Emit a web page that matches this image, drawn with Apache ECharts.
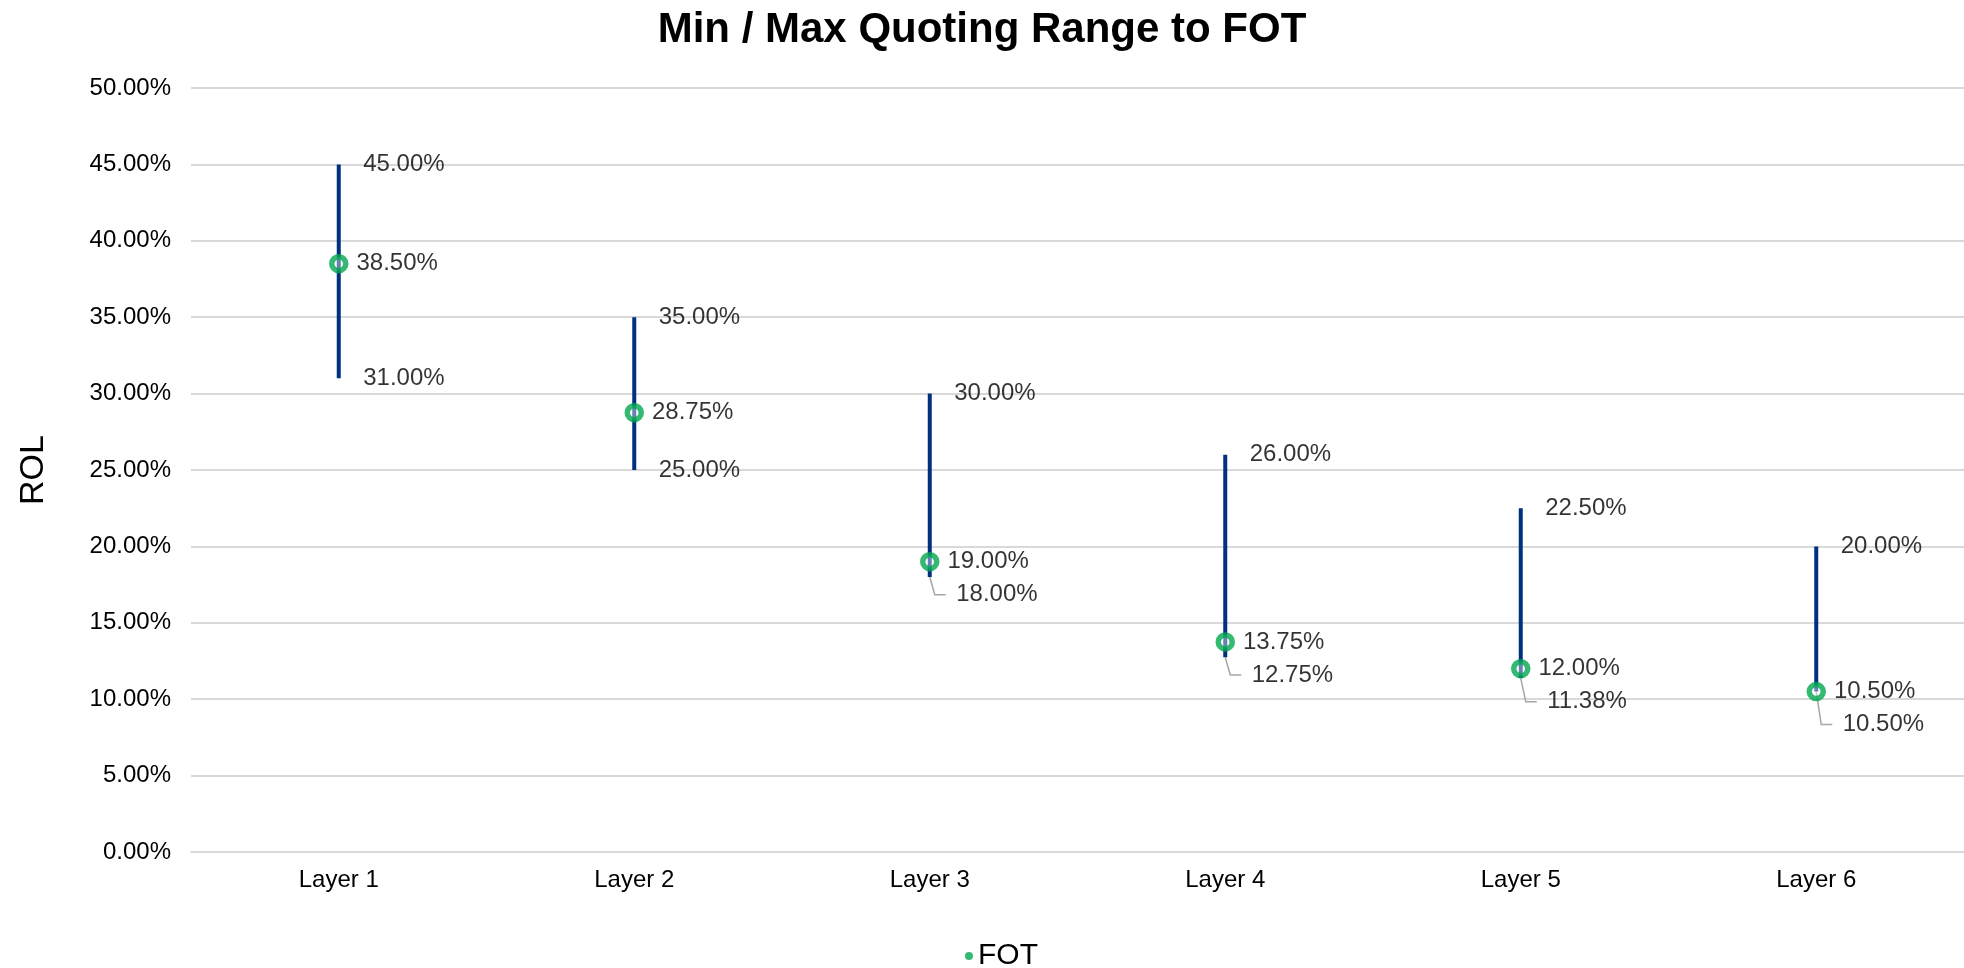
<!DOCTYPE html>
<html>
<head>
<meta charset="utf-8">
<script src="https://cdn.jsdelivr.net/npm/echarts@6/dist/echarts.min.js"></script>
<style>
  html, body { margin: 0; padding: 0; background: #fff; }
  #chart { width: 1964px; height: 968px; }
</style>
</head>
<body>
<div id="chart"></div>
<script>
var categories = ['Layer 1', 'Layer 2', 'Layer 3', 'Layer 4', 'Layer 5', 'Layer 6'];
var maxVals = [45, 35, 30, 26, 22.5, 20];
var minVals = [31, 25, 18, 12.75, 11.38, 10.5];
var fotVals = [38.5, 28.75, 19, 13.75, 12, 10.5];
var yTicks = { min: 0, max: 50, step: 5 };

var navy = '#00307f';
var green = '#00a84f';
var font = '"Liberation Sans", Arial, sans-serif';

var myChart = echarts.init(document.getElementById('chart'));

function pct(p) {
  return Number(p.value).toFixed(2) + '%';
}

// a min label too close to its FOT label is pushed below it
function isCrowded(i) {
  return fotVals[i] - minVals[i] < 2;
}
function pushedLabelY(api, i) {
  return api.coord([i, fotVals[i]])[1] + 33;
}

function minLayout(p) {
  var i = p.dataIndex;
  if (!isCrowded(i)) return {};
  var pf = myChart.convertToPixel({ gridIndex: 0 }, [i, fotVals[i]]);
  var pm = myChart.convertToPixel({ gridIndex: 0 }, [i, minVals[i]]);
  return { dx: 2, dy: pf[1] + 33 - pm[1] };
}

var option = {
  backgroundColor: '#fff',
  animation: false,
  textStyle: { fontFamily: font, color: '#000' },
  title: {
    text: 'Min / Max Quoting Range to FOT',
    left: 'center',
    top: 4,
    textStyle: { fontFamily: font, fontSize: 42, fontWeight: 'bold', color: '#000' }
  },
  legend: {
    top: 936,
    left: 960,
    itemWidth: 8,
    itemHeight: 8,
    itemGap: 6,
    data: [{ name: 'FOT', icon: 'circle', itemStyle: { color: green, borderWidth: 0 } }],
    textStyle: { fontFamily: font, fontSize: 30, color: '#000' }
  },
  grid: { left: 191, width: 1782, top: 88, bottom: 116 },
  xAxis: {
    type: 'category',
    data: categories,
    axisLine: { lineStyle: { color: '#d9d9d9', width: 2 } },
    axisTick: { show: false },
    axisLabel: { fontFamily: font, fontSize: 24, color: '#000', margin: 16 }
  },
  yAxis: {
    type: 'value',
    min: yTicks.min,
    max: yTicks.max,
    interval: yTicks.step,
    name: 'ROL',
    nameLocation: 'middle',
    nameGap: 140,
    nameTextStyle: { fontFamily: font, fontSize: 34, color: '#000' },
    axisLine: { show: false },
    axisTick: { show: false },
    axisLabel: {
      fontFamily: font, fontSize: 24, color: '#000', margin: 20,
      formatter: function (v) { return v.toFixed(2) + '%'; }
    },
    splitLine: { lineStyle: { color: '#d9d9d9', width: 2 } }
  },
  series: [
    {
      name: 'Range',
      type: 'custom',
      silent: true,
      data: categories.map(function (c, i) { return [i, minVals[i], maxVals[i]]; }),
      renderItem: function (params, api) {
        var a = api.coord([api.value(0), api.value(1)]);
        var b = api.coord([api.value(0), api.value(2)]);
        return {
          type: 'line',
          shape: { x1: a[0], y1: a[1], x2: b[0], y2: b[1] },
          style: { stroke: navy, lineWidth: 4 }
        };
      },
      z: 2
    },
    {
      name: 'Leader',
      type: 'custom',
      silent: true,
      data: categories.map(function (c, i) { return [i, minVals[i]]; }),
      renderItem: function (params, api) {
        var i = params.dataIndex;
        if (!isCrowded(i)) return null;
        var a = api.coord([api.value(0), api.value(1)]);
        var ly = pushedLabelY(api, i);
        return {
          type: 'polyline',
          shape: { points: [[a[0], a[1]], [a[0] + 5, ly], [a[0] + 16, ly]] },
          style: { stroke: '#a6a6a6', lineWidth: 1.5, fill: null }
        };
      },
      z: 1
    },
    {
      name: 'Max',
      type: 'scatter',
      silent: true,
      symbolSize: 1,
      itemStyle: { color: 'rgba(0,0,0,0)' },
      data: maxVals,
      label: {
        show: true, position: 'right', distance: 24,
        fontFamily: font, fontSize: 24, color: '#000',
        formatter: pct
      }
    },
    {
      name: 'Min',
      type: 'scatter',
      silent: true,
      symbolSize: 1,
      itemStyle: { color: 'rgba(0,0,0,0)' },
      data: minVals,
      label: {
        show: true, position: 'right', distance: 24,
        fontFamily: font, fontSize: 24, color: '#000',
        formatter: pct
      },
      labelLayout: minLayout
    },
    {
      name: 'FOT',
      type: 'scatter',
      symbol: 'circle',
      symbolSize: 14,
      itemStyle: { color: 'rgba(255,255,255,0.5)', borderColor: green, borderWidth: 5.5 },
      data: fotVals,
      label: {
        show: true, position: 'right', distance: 8,
        fontFamily: font, fontSize: 24, color: '#000',
        formatter: pct
      },
      z: 5
    }
  ]
};

myChart.setOption(option);
</script>
</body>
</html>
